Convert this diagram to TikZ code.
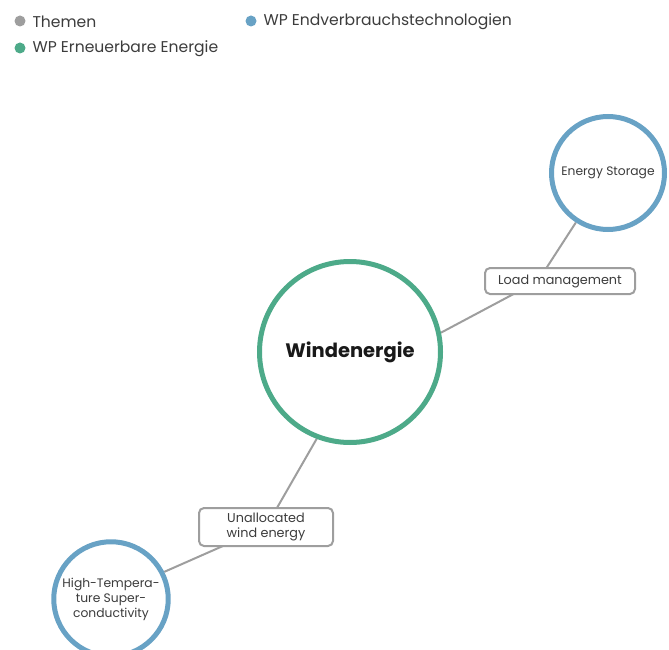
\documentclass[tikz,border=0pt]{standalone}
\usepackage{fontspec}
\setmainfont{Poppins}
\usetikzlibrary{backgrounds}

\definecolor{themegray}{HTML}{9E9E9E}
\definecolor{wpblue}{HTML}{68A2C5}
\definecolor{wpgreen}{HTML}{4DAA89}
\definecolor{textgray}{HTML}{3C3C3C}

\begin{document}
\begin{tikzpicture}[x=1pt,y=-1pt,
    legenddot/.style={circle,inner sep=0pt,minimum size=11pt},
    legendtext/.style={anchor=west,text=textgray,font=\fontsize{15.6}{18}\selectfont},
    topic/.style={circle,draw=wpgreen,line width=5pt,fill=white,minimum size=181pt,
      text=black!90,font=\fontsize{19.5}{22}\selectfont\bfseries},
    tech/.style={circle,draw=wpblue,line width=5pt,fill=white,minimum size=113pt,
      text=textgray,align=center,font=\fontsize{12.3}{15}\selectfont},
    linkbox/.style={draw=themegray,line width=2pt,rounded corners=5pt,fill=white,
      text=textgray,align=center,font=\fontsize{12.8}{15}\selectfont},
    link/.style={themegray,line width=2pt}]
  \useasboundingbox (0,0) rectangle (669,650);

  % legend
  \node[legenddot,fill=themegray] (lgray) at (20,21) {};
  \node[legendtext] (tgray) at (29,22) {Themen};
  \node[legenddot,fill=wpblue] (lblue) at (251,21) {};
  \node[legendtext] (tblue) at (260,22) {WP Endverbrauchstechnologien};
  \node[legenddot,fill=wpgreen] (lgreen) at (20,48) {};
  \node[legendtext] (tgreen) at (29,49) {WP Erneuerbare Energie};

  % circles
  \node[topic] (wind) at (350,352) {Windenergie};
  \node[tech] (storage) at (608,173) {Energy Storage};
  \node[tech] (hts) at (111,599) {High-Tempera-\\ture Super-\\conductivity};

  % labelled links
  \node[linkbox,minimum width=150pt,minimum height=26pt] (load) at (560,281) {Load management};
  \node[linkbox,minimum width=134pt,minimum height=38pt] (unalloc) at (266,527) {Unallocated\\wind energy};
  \coordinate (loadjoin) at (538,281);

  \begin{scope}[on background layer]
    \draw[link] (wind.12) -- (loadjoin) -- (storage.237);
    \draw[link] (wind.249) -- (unalloc.center) -- (hts.27);
  \end{scope}
\end{tikzpicture}
\end{document}
